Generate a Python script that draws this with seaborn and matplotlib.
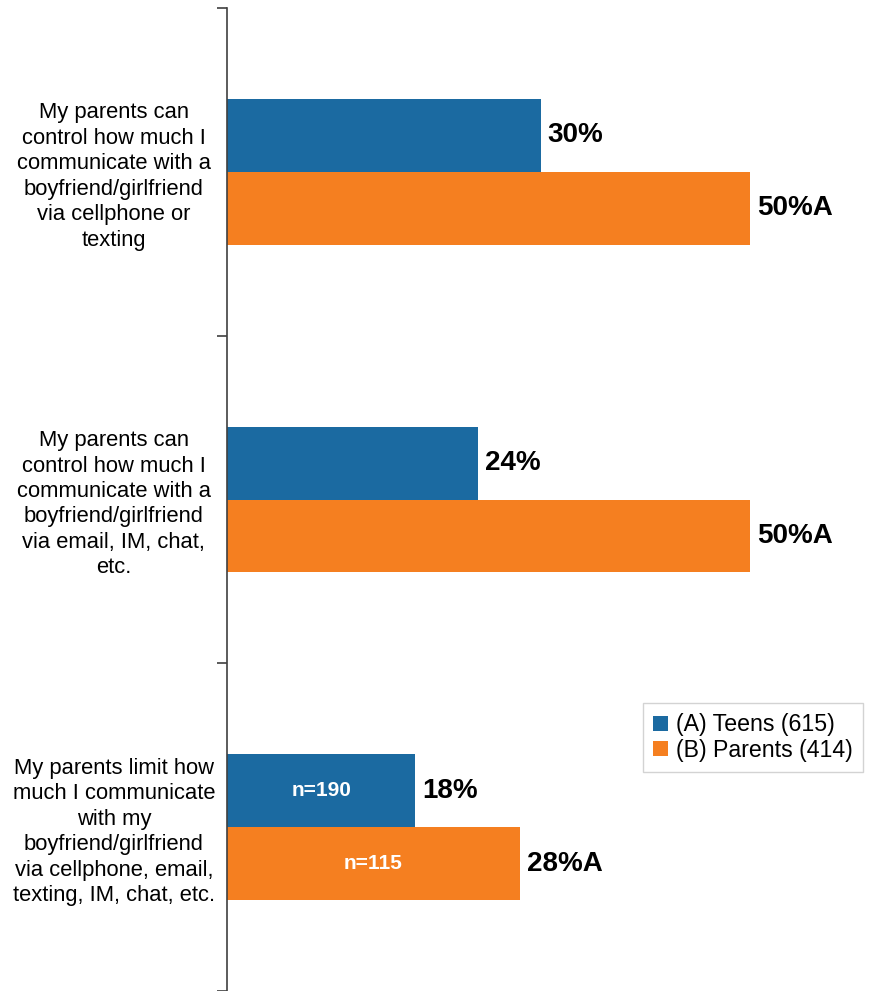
import pandas as pd
import matplotlib.pyplot as plt
import seaborn as sns

# %%

categories = [
    "My parents can\ncontrol how much I\ncommunicate with a\nboyfriend/girlfriend\nvia cellphone or\ntexting",
    "My parents can\ncontrol how much I\ncommunicate with a\nboyfriend/girlfriend\nvia email, IM, chat,\netc.",
    "My parents limit how\nmuch I communicate\nwith my\nboyfriend/girlfriend\nvia cellphone, email,\ntexting, IM, chat, etc.",
]
groups = ["(A) Teens (615)", "(B) Parents (414)"]
teens = [30, 24, 18]
parents = [50, 50, 28]
teens_sig = ["", "", ""]
parents_sig = ["A", "A", "A"]
teens_n = ["", "", "n=190"]
parents_n = ["", "", "n=115"]
colors = ["#1B6AA1", "#F57F20"]

df = pd.DataFrame({
    "item": categories * 2,
    "group": [groups[0]] * 3 + [groups[1]] * 3,
    "value": teens + parents,
})

# %%

sns.set_style("white")
plt.rcParams["font.family"] = ["Liberation Sans", "DejaVu Sans"]
plt.rcParams["text.color"] = "black"

fig = plt.figure(figsize=(8.7, 9.91), dpi=100)
ax = fig.add_axes([227 / 870, 0, 643 / 870, 983 / 991])

sns.barplot(data=df, y="item", x="value", hue="group", palette=colors,
            orient="h", width=0.445, gap=0, saturation=1, linewidth=0, ax=ax)

ax.set_xlim(0, 61.5)
ax.set_ylim(2.5, -0.5)
ax.set_xlabel("")
ax.set_ylabel("")
ax.set_xticks([])

sns.despine(ax=ax, top=True, right=True, bottom=True)
ax.spines["left"].set_color("#404040")
ax.spines["left"].set_linewidth(1.2)

# boundary ticks between categories, label text centred to the left
ax.set_yticks([-0.5, 0.5, 1.5, 2.5], minor=True)
ax.tick_params(axis="y", which="minor", left=True, length=7, width=1.2, color="#404040")
ax.tick_params(axis="y", which="major", left=False, pad=78, labelsize=15.8,
               labelcolor="black")
for lbl in ax.get_yticklabels():
    lbl.set_horizontalalignment("center")
    lbl.set_linespacing(1.28)

sig = [teens_sig, parents_sig]
nlab = [teens_n, parents_n]
vals = [teens, parents]
for i, cont in enumerate(ax.containers):
    ax.bar_label(cont, labels=[f"{v}%{s}" for v, s in zip(vals[i], sig[i])],
                 padding=5, fontsize=20, fontweight="bold", color="black")
    ax.bar_label(cont, labels=nlab[i], label_type="center",
                 fontsize=15, fontweight="bold", color="white")

leg = ax.legend(loc="upper left", bbox_to_anchor=(0.647, 0.293), borderaxespad=0,
                fontsize=16.7, frameon=True, fancybox=False, handlelength=0.62,
                handleheight=0.62, handletextpad=0.35, labelspacing=0.1,
                borderpad=0.45)
for t in leg.get_texts():
    t.set_color("black")
leg.get_frame().set_edgecolor("#c8c8c8")
leg.get_frame().set_linewidth(1.0)

plt.savefig("out.png", dpi=100)
